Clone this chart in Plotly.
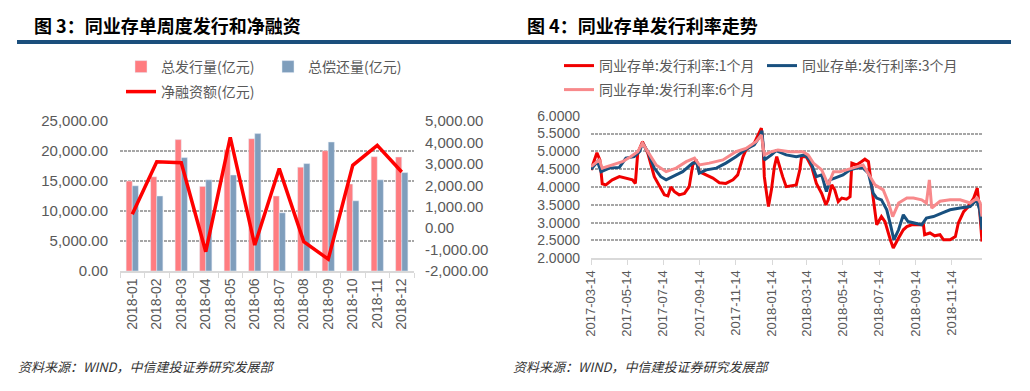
import plotly.graph_objects as go

# ---------------- Left chart data (图3) ----------------
months = ["2018-01", "2018-02", "2018-03", "2018-04", "2018-05", "2018-06",
          "2018-07", "2018-08", "2018-09", "2018-10", "2018-11", "2018-12"]
issuance = [15000, 15700, 21900, 14100, 20200, 22050, 12500, 17300, 20050, 14500, 19050, 19000]
repayment = [14200, 12500, 18900, 15200, 16000, 22900, 9700, 17900, 21500, 11700, 15200, 16400]
net_financing = [650, 3100, 3050, -1100, 4240, -790, 2780, -630, -1450, 2930, 3860, 2620]

left_tickvals = [0, 5000, 10000, 15000, 20000, 25000]
left_ticktext = ["0.00", "5,000.00", "10,000.00", "15,000.00", "20,000.00", "25,000.00"]
right_tickvals = [-2000, -1000, 0, 1000, 2000, 3000, 4000, 5000]
right_ticktext = ["-2,000.00", "-1,000.00", "0.00", "1,000.00", "2,000.00",
                  "3,000.00", "4,000.00", "5,000.00"]
left_dark_grid = [5000]

# ---------------- Right chart data (图4) ----------------
d_1m = ["2017-03-14", "2017-03-24", "2017-03-29", "2017-04-02", "2017-04-08", "2017-04-19",
        "2017-05-01", "2017-05-12", "2017-05-23", "2017-05-28", "2017-06-01", "2017-06-09",
        "2017-06-18", "2017-06-29", "2017-07-07", "2017-07-16", "2017-07-22", "2017-07-27",
        "2017-08-02", "2017-08-10", "2017-08-19", "2017-08-27", "2017-09-02", "2017-09-08",
        "2017-09-13", "2017-09-25", "2017-10-06", "2017-10-17", "2017-10-28", "2017-11-09",
        "2017-11-17", "2017-11-26", "2017-12-01", "2017-12-15", "2017-12-27", "2017-12-30",
        "2018-01-01", "2018-01-04", "2018-01-08", "2018-01-13", "2018-01-18", "2018-01-22",
        "2018-01-27", "2018-02-01", "2018-02-07", "2018-02-15", "2018-02-24", "2018-03-02",
        "2018-03-05", "2018-03-13", "2018-03-22", "2018-03-30", "2018-04-08", "2018-04-15",
        "2018-04-19", "2018-04-25", "2018-04-30", "2018-05-06", "2018-05-12", "2018-05-20",
        "2018-05-26", "2018-05-29", "2018-06-06", "2018-06-14", "2018-06-20", "2018-06-26",
        "2018-07-01", "2018-07-07", "2018-07-10", "2018-07-18", "2018-07-24", "2018-08-02",
        "2018-08-07", "2018-08-16", "2018-08-24", "2018-08-30", "2018-09-07", "2018-09-18",
        "2018-09-27", "2018-09-29", "2018-10-08", "2018-10-16", "2018-10-25", "2018-10-31",
        "2018-11-11", "2018-11-20", "2018-11-25", "2018-12-04", "2018-12-12", "2018-12-21",
        "2018-12-27", "2018-12-31", "2019-01-04"]
r_1m = [4.48, 4.96, 4.76, 4.09, 4.06, 4.20,
        4.29, 4.25, 4.20, 4.10, 4.95, 5.27,
        4.95, 4.29, 4.06, 3.78, 3.75, 4.00,
        3.87, 3.78, 3.82, 4.01, 4.62, 4.76,
        4.43, 4.34, 4.25, 4.12, 4.10, 4.20,
        4.34, 4.85, 5.04, 5.23, 5.65, 5.13,
        4.29, 3.92, 3.45, 3.92, 4.57, 4.85,
        4.53, 4.29, 4.01, 4.03, 4.06, 4.48,
        4.85, 4.85, 4.57, 4.10, 3.82, 3.50,
        3.64, 4.06, 3.92, 3.59, 3.69, 3.66,
        3.73, 4.67, 4.62, 4.71, 4.78, 4.71,
        4.10, 3.27, 2.94, 3.17, 3.03, 2.52,
        2.29, 2.57, 2.80, 2.89, 2.94, 2.94,
        2.94, 2.66, 2.71, 2.63, 2.66, 2.52,
        2.52, 2.61, 2.99, 3.31, 3.45, 3.69,
        3.97, 3.36, 2.47]

d_3m = ["2017-03-14", "2017-03-25", "2017-03-31", "2017-04-14", "2017-05-01", "2017-05-12",
        "2017-05-26", "2017-06-04", "2017-06-09", "2017-06-18", "2017-06-29", "2017-07-10",
        "2017-07-19", "2017-07-30", "2017-08-16", "2017-09-02", "2017-09-09", "2017-09-13",
        "2017-09-25", "2017-10-12", "2017-10-28", "2017-11-14", "2017-12-01", "2017-12-15",
        "2017-12-24", "2017-12-28", "2018-01-01", "2018-01-13", "2018-01-21", "2018-02-07",
        "2018-02-24", "2018-03-10", "2018-03-19", "2018-03-30", "2018-04-08", "2018-04-16",
        "2018-04-22", "2018-04-30", "2018-05-14", "2018-05-26", "2018-06-06", "2018-06-17",
        "2018-06-26", "2018-07-04", "2018-07-10", "2018-07-18", "2018-07-27", "2018-08-03",
        "2018-08-08", "2018-08-16", "2018-08-24", "2018-09-01", "2018-09-13", "2018-09-24",
        "2018-10-02", "2018-10-14", "2018-10-28", "2018-11-11", "2018-11-28", "2018-12-15",
        "2018-12-26", "2018-12-31", "2019-01-04"]
r_3m = [4.50, 4.71, 4.43, 4.53, 4.55, 4.81,
        4.85, 4.99, 5.23, 4.99, 4.53, 4.29,
        4.20, 4.29, 4.43, 4.67, 4.67, 4.39,
        4.48, 4.53, 4.67, 4.85, 5.06, 5.18,
        5.41, 5.58, 4.76, 4.90, 5.02, 4.90,
        4.85, 4.90, 4.76, 4.29, 4.34, 3.87,
        4.20, 4.25, 4.34, 4.48, 4.53, 4.53,
        4.39, 3.83, 3.69, 3.64, 3.36, 2.89,
        2.52, 2.80, 3.22, 3.03, 2.99, 2.94,
        3.13, 3.17, 3.27, 3.36, 3.41, 3.45,
        3.64, 3.36, 2.80]

d_6m = ["2017-03-14", "2017-03-28", "2017-04-02", "2017-04-19", "2017-05-06", "2017-05-20",
        "2017-06-01", "2017-06-09", "2017-06-20", "2017-07-02", "2017-07-19", "2017-08-05",
        "2017-08-22", "2017-09-05", "2017-09-13", "2017-09-30", "2017-10-23", "2017-11-14",
        "2017-12-01", "2017-12-18", "2017-12-27", "2018-01-01", "2018-01-13", "2018-01-24",
        "2018-02-13", "2018-03-07", "2018-03-16", "2018-03-25", "2018-04-08", "2018-04-19",
        "2018-04-28", "2018-05-09", "2018-05-20", "2018-06-06", "2018-06-17", "2018-06-29",
        "2018-07-07", "2018-07-21", "2018-07-30", "2018-08-06", "2018-08-16", "2018-08-30",
        "2018-09-10", "2018-09-24", "2018-10-02", "2018-10-07", "2018-10-11", "2018-10-25",
        "2018-11-11", "2018-11-28", "2018-12-15", "2018-12-27", "2019-01-01", "2019-01-04"]
r_6m = [4.57, 4.76, 4.53, 4.62, 4.71, 4.85,
        4.99, 5.23, 4.95, 4.62, 4.43, 4.53,
        4.71, 4.81, 4.62, 4.67, 4.76, 4.99,
        5.08, 5.27, 5.46, 4.90, 4.99, 5.04,
        4.99, 4.99, 4.90, 4.67, 4.48, 4.06,
        4.43, 4.43, 4.48, 4.57, 4.62, 4.29,
        4.06, 3.92, 3.55, 3.17, 3.55, 3.69,
        3.69, 3.64, 3.55, 4.20, 3.41, 3.60,
        3.64, 3.64, 3.55, 3.69, 3.55, 3.17]

date_tickvals = ["2017-03-14", "2017-05-14", "2017-07-14", "2017-09-14", "2017-11-14",
                 "2018-01-14", "2018-03-14", "2018-05-14", "2018-07-14", "2018-09-14",
                 "2018-11-14"]
rate_tickvals = [2.0, 2.5, 3.0, 3.5, 4.0, 4.5, 5.0, 5.5, 6.0]
rate_dark_grid = [3.5, 4.0]

# The page body has an 8px margin, so the figure is placed at (8, 8) in the window.
OFF = 8
W, H = 1030 - OFF, 391 - OFF
def px(x):
    return (x - OFF) / W
def py(y):
    return 1 - (y - OFF) / H

CJK = "Noto Sans CJK SC"
NUM = "Liberation Sans"
GRAY_TXT = "#595959"
GRID = "#A6A6A6"
AXIS = "#D9D9D9"

fig = go.Figure()

fig.add_trace(go.Bar(x=months, y=issuance, name="总发行量(亿元)", marker_color="#FF7C80",
                     xaxis="x", yaxis="y", legend="legend"))
fig.add_trace(go.Bar(x=months, y=repayment, name="总偿还量(亿元)", marker_color="#7F9EBC",
                     xaxis="x", yaxis="y", legend="legend"))
fig.add_trace(go.Scatter(x=months, y=net_financing, name="净融资额(亿元)", mode="lines",
                         line=dict(color="#FF0000", width=3.5), xaxis="x", yaxis="y2",
                         legend="legend2"))

fig.add_trace(go.Scatter(x=d_1m, y=r_1m, name="同业存单:发行利率:1个月", mode="lines",
                         line=dict(color="#F00000", width=3), xaxis="x2", yaxis="y3",
                         legend="legend3"))
fig.add_trace(go.Scatter(x=d_3m, y=r_3m, name="同业存单:发行利率:3个月", mode="lines",
                         line=dict(color="#18507F", width=3), xaxis="x2", yaxis="y3",
                         legend="legend3"))
fig.add_trace(go.Scatter(x=d_6m, y=r_6m, name="同业存单:发行利率:6个月", mode="lines",
                         line=dict(color="#F8898B", width=3), xaxis="x2", yaxis="y3",
                         legend="legend4"))

tickfont_l = dict(family=NUM, size=15, color=GRAY_TXT)
legfont = dict(family=CJK, size=14, color=GRAY_TXT)

def leg(x, y, ew):
    d = dict(x=px(x), y=py(y), xanchor="left", yanchor="middle", orientation="h",
             font=legfont, bgcolor="rgba(0,0,0,0)", borderwidth=0, itemwidth=30,
             traceorder="normal")
    if ew:
        d.update(entrywidth=ew, entrywidthmode="pixels")
    return d

def grid_only_axis(over, rng, vals, dash):
    # overlaying axis used only to draw the darker dashed gridlines beneath the data
    return dict(overlaying=over, range=rng, tickvals=vals, showticklabels=False, ticks="",
                showline=False, zeroline=False, automargin=False,
                showgrid=True, gridcolor="black", gridwidth=1, griddash=dash)

fig.update_layout(
    width=W, height=H, margin=dict(l=0, r=0, t=0, b=0, autoexpand=False),
    paper_bgcolor="white", plot_bgcolor="white",
    barmode="group", bargap=0.5, bargroupgap=0,
    showlegend=True,
    legend=leg(121, 67, 102),
    legend2=leg(121, 92, None),
    legend3=leg(559, 66, 158),
    legend4=leg(559, 90, None),
    xaxis=dict(domain=[px(120), px(414)], anchor="y", type="category", automargin=False,
               showgrid=False, showline=True, linecolor=AXIS, linewidth=1.5,
               ticks="outside", tickson="boundaries", ticklen=5, tickcolor=AXIS,
               tickangle=-90, tickfont=dict(family=NUM, size=14, color=GRAY_TXT)),
    yaxis=dict(domain=[py(271), py(121)], anchor="x", range=[0, 25000], automargin=False,
               tickvals=left_tickvals, ticktext=left_ticktext,
               showgrid=True, gridcolor=GRID, gridwidth=1.5, griddash="3px,1px",
               zeroline=False, showline=False, tickfont=tickfont_l, ticklabelstandoff=11),
    yaxis2=dict(overlaying="y", side="right", anchor="x", range=[-2000, 5000],
                automargin=False, tickvals=right_tickvals, ticktext=right_ticktext,
                showgrid=False, zeroline=False, showline=False,
                tickfont=tickfont_l, ticklabelstandoff=10),
    yaxis4=grid_only_axis("y", [0, 25000], left_dark_grid, "4px,2px"),
    xaxis2=dict(domain=[px(591), px(982)], anchor="y3", type="date", automargin=False,
                range=["2017-03-14", "2019-01-04"],
                tickvals=date_tickvals, ticktext=date_tickvals,
                showgrid=False, showline=True, linecolor=AXIS, linewidth=1.5,
                ticks="outside", ticklen=5, tickcolor=AXIS, tickangle=-90,
                tickfont=dict(family=NUM, size=13, color=GRAY_TXT)),
    yaxis3=dict(domain=[py(258.3), py(115.7)], anchor="x2", range=[2, 6], automargin=False,
                tickvals=rate_tickvals, tickformat=".4f",
                showgrid=True, gridcolor=GRID, gridwidth=1.5, griddash="3px,1px",
                zeroline=False, showline=False,
                tickfont=dict(family=NUM, size=14, color=GRAY_TXT), ticklabelstandoff=10),
    yaxis5=grid_only_axis("y3", [2, 6], rate_dark_grid, "6px,2px,1px,2px"),
)
fig.layout.yaxis4.anchor = "x"
fig.layout.yaxis5.anchor = "x2"

# title rules
fig.add_shape(type="line", xref="paper", yref="paper", x0=px(17), x1=px(515),
              y0=py(42), y1=py(42), line=dict(color="#1B4F7C", width=4))
fig.add_shape(type="line", xref="paper", yref="paper", x0=px(515), x1=px(1011),
              y0=py(42), y1=py(42), line=dict(color="#1B4F7C", width=4))

# titles
fig.add_annotation(text="<b>图 3：同业存单周度发行和净融资</b>", xref="paper", yref="paper",
                   x=px(32), y=py(25), xanchor="left", yanchor="middle", showarrow=False,
                   font=dict(family=CJK, size=18, color="black"))
fig.add_annotation(text="<b>图 4：同业存单发行利率走势</b>", xref="paper", yref="paper",
                   x=px(525), y=py(25), xanchor="left", yanchor="middle", showarrow=False,
                   font=dict(family=CJK, size=18, color="black"))

# sources
for x0 in (16, 511):
    fig.add_annotation(text="<i>资料来源：WIND，中信建投证券研究发展部</i>", xref="paper",
                       yref="paper", x=px(x0), y=py(366), xanchor="left", yanchor="middle",
                       showarrow=False, font=dict(family=CJK, size=13, color="#333333"))

fig.write_html("out.html")
